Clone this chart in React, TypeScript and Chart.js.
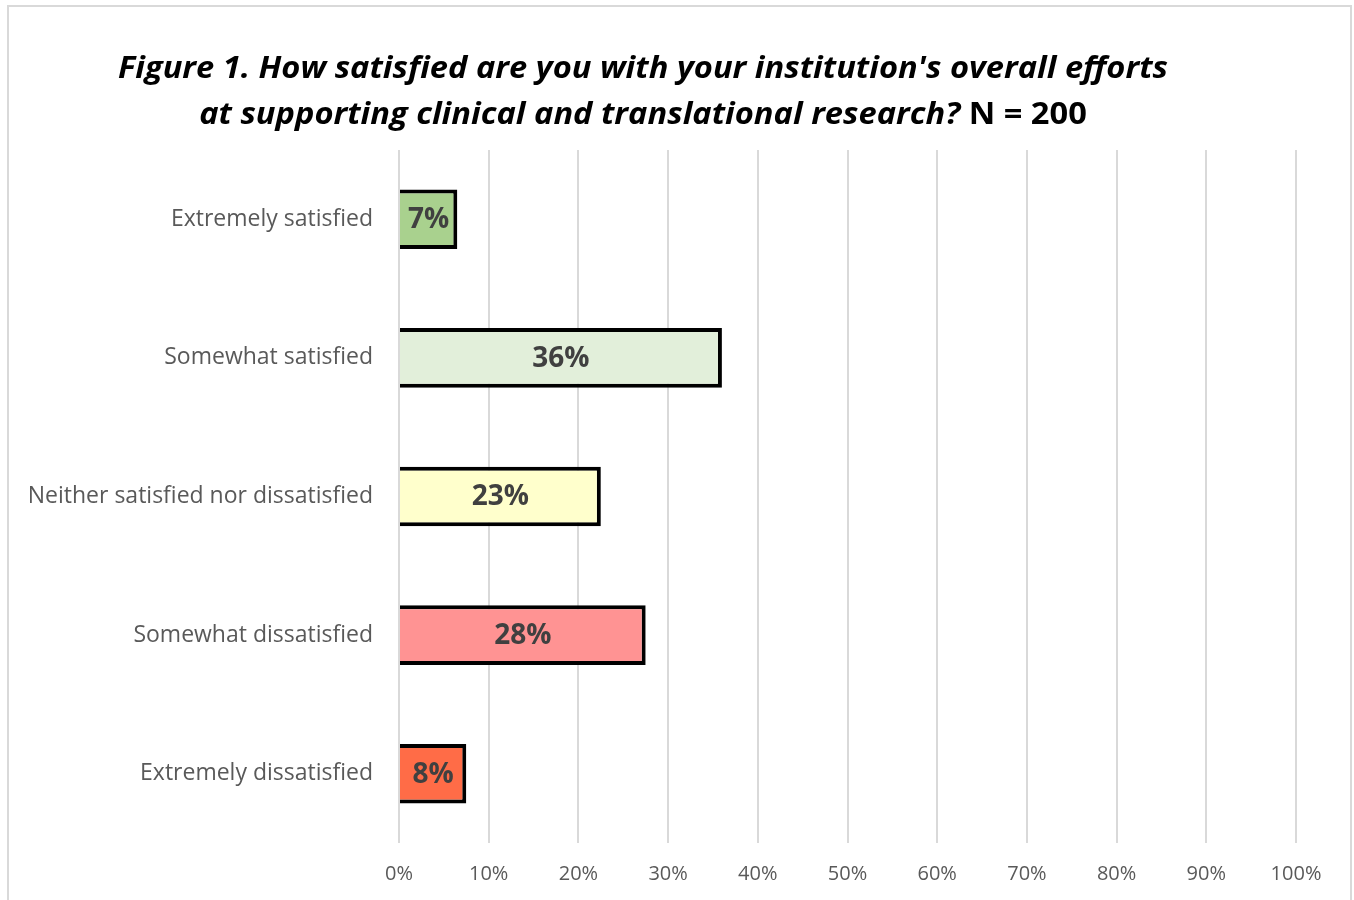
import React, { useEffect, useRef } from "react";
import { Chart, registerables } from "chart.js";

Chart.register(...registerables);

const categories = [
  "Extremely satisfied",
  "Somewhat satisfied",
  "Neither satisfied nor dissatisfied",
  "Somewhat dissatisfied",
  "Extremely dissatisfied",
];
const percentValues = [6.5, 36, 22.5, 27.5, 7.5];
const barColors = ["#A9D18E", "#E2EFDA", "#FFFFCC", "#FF9393", "#FF6C47"];
const titleLine1 = "Figure 1. How satisfied are you with your institution's overall efforts";
const titleLine2Italic = "at supporting clinical and translational research? ";
const titleLine2Bold = "N = 200";
const axisMax = 100;
const axisStep = 10;

const FONT = '"Open Sans", "Noto Sans", sans-serif';

const titlePlugin = {
  id: "figTitle",
  afterDraw(chart: any) {
    const ctx = chart.ctx as CanvasRenderingContext2D;
    ctx.save();
    const size = 30;
    const italic = `italic bold ${size}px ${FONT}`;
    const upright = `bold ${size}px ${FONT}`;
    ctx.fillStyle = "#000000";
    ctx.textBaseline = "alphabetic";
    ctx.textAlign = "left";
    ctx.font = italic;
    const w1 = ctx.measureText(titleLine1).width;
    const targetW = 1050;
    const sx = targetW / w1;
    const cx = 643;
    ctx.save();
    ctx.translate(cx - targetW / 2, 78);
    ctx.scale(sx, 1);
    ctx.fillText(titleLine1, 0, 0);
    ctx.restore();
    const wA = ctx.measureText(titleLine2Italic).width;
    ctx.font = upright;
    const wB = ctx.measureText(titleLine2Bold).width;
    const total = (wA + wB) * sx;
    ctx.save();
    ctx.translate(cx - total / 2, 124);
    ctx.scale(sx, 1);
    ctx.font = italic;
    ctx.fillText(titleLine2Italic, 0, 0);
    ctx.font = upright;
    ctx.fillText(titleLine2Bold, wA, 0);
    ctx.restore();
    ctx.restore();
  },
};

const valueLabelPlugin = {
  id: "valueLabels",
  afterDatasetsDraw(chart: any) {
    const ctx = chart.ctx as CanvasRenderingContext2D;
    const meta = chart.getDatasetMeta(0);
    ctx.save();
    ctx.font = `bold 28px ${FONT}`;
    ctx.fillStyle = "#404040";
    ctx.textAlign = "center";
    ctx.textBaseline = "middle";
    meta.data.forEach((bar: any, i: number) => {
      const v = chart.data.datasets[0].data[i] as number;
      const x = (bar.x + bar.base) / 2;
      ctx.fillText(Math.round(v) + "%", x, bar.y + 1);
    });
    ctx.restore();
  },
};

export default function App() {
  const ref = useRef<HTMLCanvasElement | null>(null);
  useEffect(() => {
    if (!ref.current) return;
    const chart = new Chart(ref.current, {
      type: "bar",
      data: {
        labels: categories,
        datasets: [
          {
            data: percentValues,
            backgroundColor: barColors,
            borderColor: "#000000",
            borderWidth: 4,
            borderSkipped: "start",
            barPercentage: 0.43,
            categoryPercentage: 1,
          },
        ],
      },
      options: {
        indexAxis: "y",
        animation: false,
        responsive: false,
        maintainAspectRatio: false,
        layout: { padding: { left: 0, top: 150, right: 58, bottom: 0 } },
        plugins: {
          legend: { display: false },
          title: { display: false },
          tooltip: { enabled: false },
        },
        scales: {
          x: {
            min: 0,
            max: axisMax,
            ticks: {
              stepSize: axisStep,
              callback: (v: any) => v + "%",
              color: "#595959",
              font: { family: FONT, size: 20 },
              padding: 19,
            },
            grid: { color: "#d9d9d9", lineWidth: 2, drawTicks: false },
            border: { display: false },
            afterFit: (s: any) => {
              s.height = 57;
            },
          },
          y: {
            ticks: {
              color: "#595959",
              font: { family: FONT, size: 23 },
              padding: 26,
            },
            grid: { display: false, drawTicks: false },
            border: { display: false },
            afterFit: (s: any) => {
              s.width = 399;
            },
          },
        },
      },
      plugins: [titlePlugin, valueLabelPlugin],
    });
    return () => chart.destroy();
  }, []);
  return (
    <div>
      <canvas
        ref={ref}
        width={1354}
        height={900}
        style={{ position: "absolute", left: 0, top: 0, width: 1354, height: 900 }}
      />
      <div
        style={{
          position: "absolute",
          left: 7,
          top: 5,
          width: 1345,
          height: 900,
          boxSizing: "border-box",
          borderLeft: "2px solid #d9d9d9",
          borderTop: "2px solid #d9d9d9",
          borderRight: "2px solid #d9d9d9",
          pointerEvents: "none",
        }}
      />
    </div>
  );
}
